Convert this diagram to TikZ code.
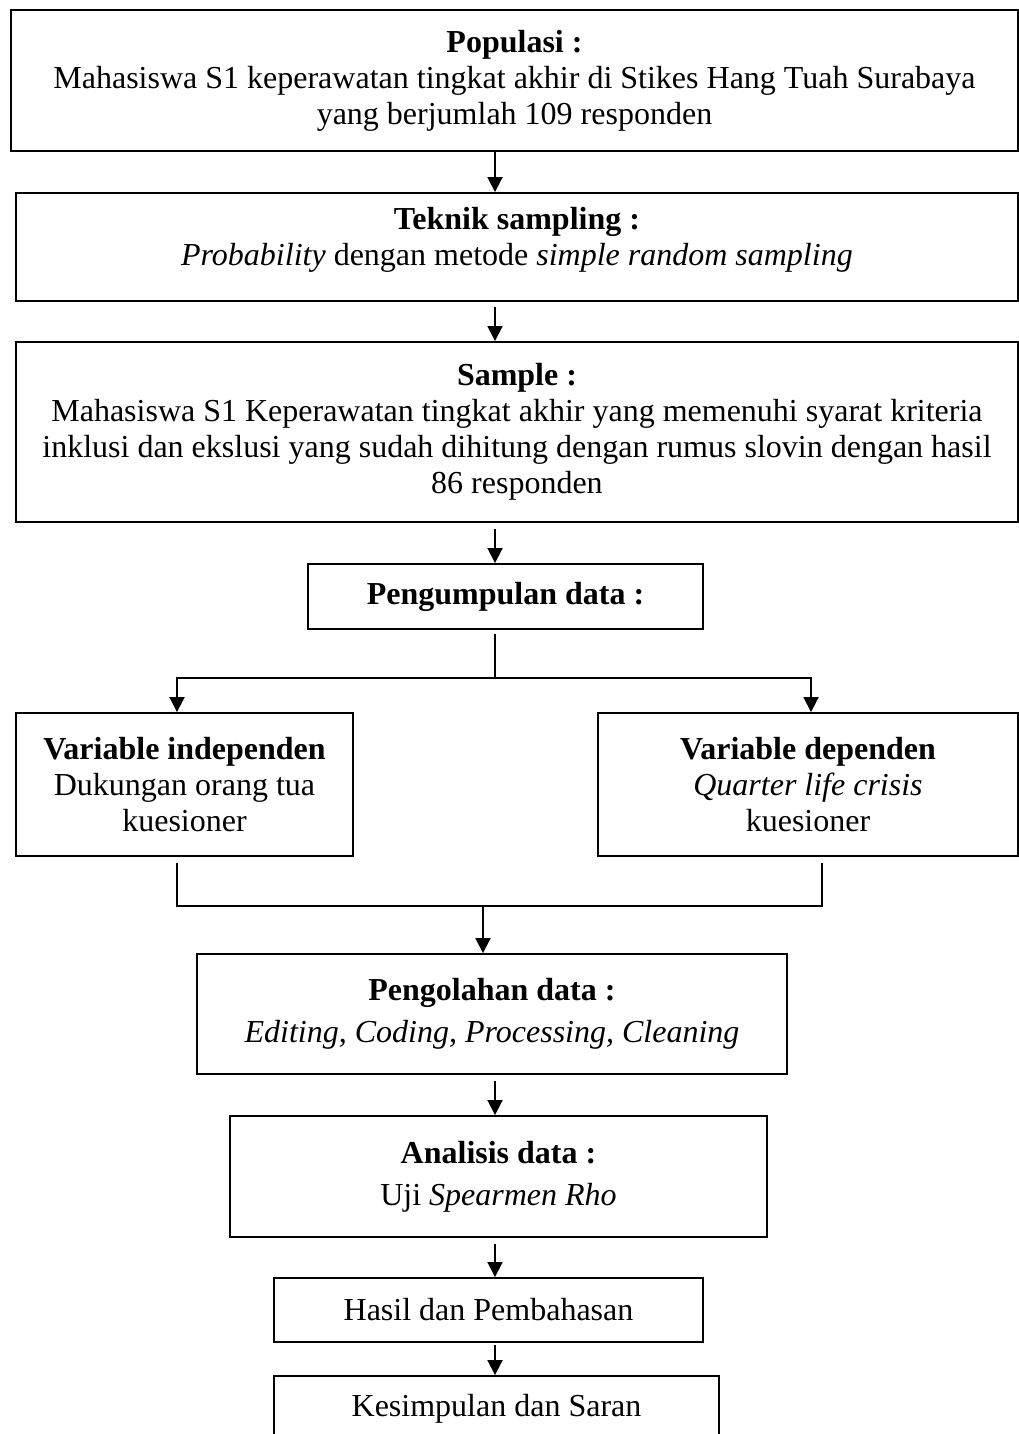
\documentclass[tikz,border=0pt]{standalone}
\usepackage{fontspec}
\setmainfont{Liberation Serif}
\usetikzlibrary{arrows.meta,calc}
\begin{document}
\begin{tikzpicture}[x=1pt,y=-1pt,
  box/.style={draw,line width=1.9pt,inner sep=0pt,align=center,font=\fontsize{32}{36}\selectfont},
  ln/.style={line width=1.9pt},
  arr/.style={line width=1.9pt,-{Triangle[width=15pt,length=15pt]}}]
\useasboundingbox (0,0) rectangle (1019,1434);
\clip (0,0) rectangle (1019,1434);
\fill[white] (0,0) rectangle (1019,1434);

\node[box,minimum width=1007pt,minimum height=141pt] (p1) at (514.5,80.5)
  {\textbf{Populasi :}\\Mahasiswa S1 keperawatan tingkat akhir di Stikes Hang Tuah Surabaya\\yang berjumlah 109 responden};
\node[box,minimum width=1002pt,minimum height=108pt] (p2) at (517,247)
  {\mbox{}\\[-28pt]\textbf{Teknik sampling :}\\\textit{Probability} dengan metode \textit{simple random sampling}};
\node[box,minimum width=1002pt,minimum height=180pt] (p3) at (517,432)
  {\textbf{Sample :}\\Mahasiswa S1 Keperawatan tingkat akhir yang memenuhi syarat kriteria\\inklusi dan ekslusi yang sudah dihitung dengan rumus slovin dengan hasil\\86 responden};
\node[box,minimum width=395pt,minimum height=65pt] (p4) at (505.5,596.5)
  {\textbf{Pengumpulan data :}};
\node[box,minimum width=337pt,minimum height=143pt] (vl) at (184.5,784.5)
  {\textbf{Variable independen}\\Dukungan orang tua\\kuesioner};
\node[box,minimum width=420pt,minimum height=143pt] (vr) at (808,784.5)
  {\textbf{Variable dependen}\\\textit{Quarter life crisis}\\kuesioner};
\node[box,minimum width=590pt,minimum height=120pt] (po) at (492,1014)
  {\mbox{}\\[-14pt]\textbf{Pengolahan data :}\\[6pt]\textit{Editing, Coding, Processing, Cleaning}};
\node[box,minimum width=537pt,minimum height=121pt] (an) at (498.5,1176.5)
  {\mbox{}\\[-14pt]\textbf{Analisis data :}\\[6pt]Uji \textit{Spearmen Rho}};
\node[box,minimum width=429pt,minimum height=64pt] (ha) at (488.5,1310)
  {Hasil dan Pembahasan};
\node[box,minimum width=445pt,minimum height=65pt] (ke) at (496.5,1408.5)
  {Kesimpulan dan Saran};

\coordinate (cx) at (495,0);
\coordinate (s) at (495,678);
\coordinate (sl) at (177,678);
\coordinate (sr) at (811,678);
\coordinate (ml) at (177,906);
\coordinate (mr) at (822,906);
\coordinate (m) at (483,906);

\draw[arr] (p1.south -| cx) -- (p2.north -| cx);
\draw[arr,shorten <=5pt] (p2.south -| cx) -- (p3.north -| cx);
\draw[arr,shorten <=6pt] (p3.south -| cx) -- (p4.north -| cx);
\draw[ln,shorten <=4pt] (p4.south -| s) -- (s);
\draw[arr] (s) -| (vl.north -| sl);
\draw[arr] (s) -| (vr.north -| sr);
\draw[ln] ([yshift=-6pt]vl.south -| ml) -- (ml) -- (mr) -- ([yshift=-6pt]vr.south -| mr);
\draw[arr] (m) -- (po.north -| m);
\draw[arr,shorten <=6pt] (po.south -| cx) -- (an.north -| cx);
\draw[arr,shorten <=6pt] (an.south -| cx) -- (ha.north -| cx);
\draw[arr,shorten <=2pt] (ha.south -| cx) -- (ke.north -| cx);
\end{tikzpicture}
\end{document}
